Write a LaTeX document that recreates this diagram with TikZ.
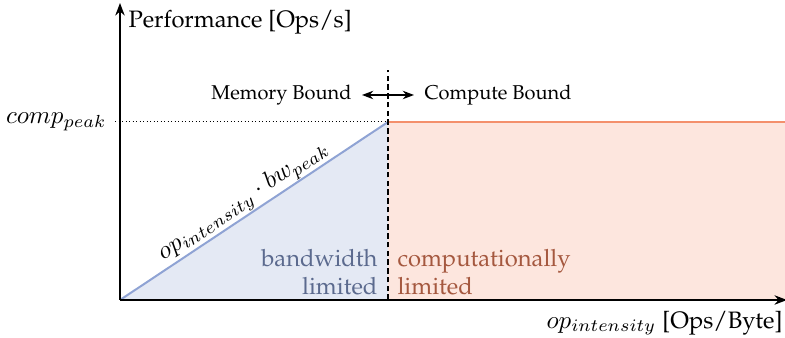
\documentclass[tikz,border=0pt]{standalone}
\usepackage[T1]{fontenc}
\usepackage{palatino}
\usetikzlibrary{arrows.meta}
\definecolor{bwline}{HTML}{8FA3D4}
\definecolor{bwfill}{HTML}{E4E9F4}
\definecolor{bwtext}{HTML}{5B6A8E}
\definecolor{cpline}{HTML}{F4906C}
\definecolor{cpfill}{HTML}{FDE6DE}
\definecolor{cptext}{HTML}{A5583F}
\begin{document}
\begin{tikzpicture}[x=0.4pt,y=0.4pt,axis/.style={thick,-{Stealth[length=5pt]}},
	region/.style={align=#1,inner sep=0pt,font=\fontsize{9.5}{11.5}\selectfont},
	bound/.style={inner sep=0pt,font=\fontsize{8}{9.5}\selectfont}]
	\useasboundingbox (-120,-38) rectangle (665,300);
	% corner points of the roofline
	\coordinate (o) at (0,0);
	\coordinate (peak) at (268,178);
	\coordinate (ridge) at (268,0);
	\coordinate (roof) at (665,178);
	\coordinate (ytop) at (0,297);
	\coordinate (xend) at (667,0);
	\coordinate (dtop) at (268,230);
	% shaded regions
	\fill[bwfill] (o) -- (peak) -- (ridge) -- cycle;
	\fill[cpfill] (ridge) rectangle (roof);
	\draw[bwline,thick] (o) -- (peak);
	\draw[cpline,thick] (peak) -- (roof);
	% peak level
	\node (cp) [anchor=east,inner sep=0pt] at (-13,178) {$comp_{peak}$};
	\draw[densely dotted] (-5,178) -- (peak);
	% split between the two bounds
	\draw[thick,dash pattern=on 2.2pt off 1.3pt] (ridge) -- (dtop);
	\coordinate (al) at (242,205);
	\coordinate (ar) at (294,205);
	\draw[semithick,{Stealth[length=4.5pt]}-{Stealth[length=4.5pt]}] (al) -- (ar);
	\node (mb) [bound,anchor=east] at (232,205) {Memory Bound};
	\node (cb) [bound,anchor=west] at (304,205) {Compute Bound};
	% region labels
	\node (bw) [region=right,anchor=south east,text=bwtext] at (258,4) {bandwidth\\limited};
	\node (cl) [region=left,anchor=south west,text=cptext] at (277,4) {computationally\\limited};
	\path (o) -- node[sloped,above,pos=0.49,inner sep=0.5pt] (bwl) {$op_{intensity}\cdot bw_{peak}$} (peak);
	% axes
	\draw[axis] (o) -- (ytop);
	\draw[axis] (o) -- (xend);
	\node (yl) [region=left,anchor=west] at (8,278) {Performance [Ops/s]};
	\node (xl) [anchor=east,inner sep=0pt] at (663,-23) {$op_{intensity}$ {\fontsize{9.5}{11.5}\selectfont[Ops/Byte]}};
\end{tikzpicture}
\end{document}
